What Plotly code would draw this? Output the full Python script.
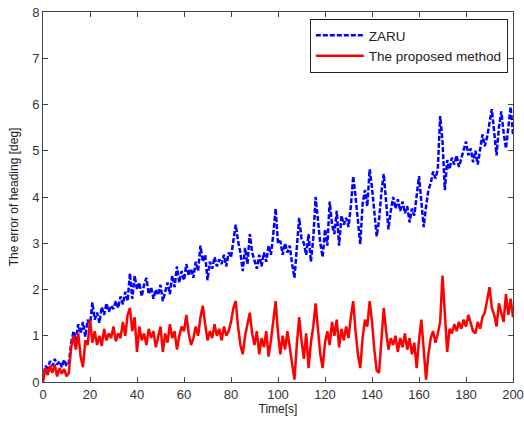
import plotly.graph_objects as go

# heading error [deg], sampled every second from 0 to 200 s
time_s = list(range(0, 201))

zaru = [
	0.05, 0.35, 0.30, 0.45, 0.35, 0.50, 0.38, 0.45, 0.32, 0.48,
	0.35, 0.42, 0.85, 1.10, 0.90, 1.25, 1.05, 1.30, 0.98, 1.35,
	1.20, 1.72, 1.35, 1.50, 1.28, 1.62, 1.45, 1.70, 1.52, 1.65,
	1.58, 1.75, 1.60, 1.85, 1.68, 1.95, 1.75, 2.35, 1.80, 2.30,
	2.00, 2.15, 1.85, 2.10, 2.25, 1.90, 2.05, 1.80, 2.00, 1.88,
	2.10, 1.75, 1.95, 2.15, 1.90, 2.30, 2.05, 2.50, 2.15, 2.40,
	2.20, 2.55, 2.30, 2.45, 2.25, 2.60, 2.40, 2.95, 2.60, 2.75,
	2.20, 2.60, 2.45, 2.70, 2.50, 2.65, 2.55, 2.75, 2.50, 2.80,
	2.70, 3.10, 3.40, 3.05, 2.80, 2.40, 2.90, 2.55, 3.20, 2.80,
	2.65, 2.45, 2.75, 2.50, 2.80, 2.60, 2.95, 2.75, 3.20, 3.75,
	3.00, 3.05, 2.75, 3.00, 2.80, 2.95, 2.55, 2.25, 2.90, 3.55,
	3.10, 3.00, 2.75, 3.20, 2.60, 3.10, 4.00, 3.50, 3.00, 2.70,
	3.30, 2.95, 3.90, 3.40, 3.20, 3.70, 2.95, 3.60, 3.40, 3.55,
	3.35, 3.80, 4.45, 4.00, 3.50, 2.98, 3.85, 4.15, 3.80, 4.60,
	4.20, 3.60, 3.15, 3.50, 4.10, 4.50, 3.90, 3.30, 3.70, 4.00,
	3.75, 3.95, 3.70, 3.90, 3.65, 3.80, 3.45, 3.75, 3.60, 4.10,
	4.45, 3.90, 3.35, 3.80, 4.15, 4.30, 4.55, 4.40, 4.60, 5.75,
	5.20, 4.15, 4.80, 4.60, 4.85, 4.70, 4.90, 4.65, 4.85, 5.00,
	5.20, 4.90, 5.05, 4.75, 5.00, 4.70, 5.00, 5.35, 5.10, 5.30,
	5.60, 5.90, 5.40, 4.90, 5.50, 5.85, 5.40, 5.05, 5.50, 5.95,
	5.35,
]

proposed = [
	0.00, 0.30, 0.15, 0.35, 0.20, 0.38, 0.12, 0.30, 0.18, 0.28,
	0.12, 0.20, 0.75, 1.00, 0.70, 1.05, 0.55, 0.32, 0.90, 0.80,
	1.35, 0.85, 1.10, 0.80, 1.00, 0.78, 1.15, 0.90, 1.05, 0.95,
	1.20, 0.88, 1.05, 0.95, 1.30, 1.00, 1.45, 1.60, 1.10, 1.40,
	0.65, 1.20, 0.90, 1.05, 0.80, 1.15, 0.95, 1.10, 0.75, 1.00,
	1.20, 0.65, 1.05, 0.85, 1.25, 0.95, 1.10, 0.70, 1.00, 1.20,
	1.10, 1.45, 1.05, 0.80, 0.95, 1.20, 1.00, 1.40, 1.65, 1.25,
	0.90, 1.10, 0.95, 1.25, 1.00, 1.15, 0.90, 1.20, 1.00, 1.10,
	1.30, 1.60, 1.75, 1.20, 0.80, 0.60, 1.00, 1.25, 1.50, 1.05,
	0.80, 1.10, 0.60, 0.95, 0.75, 1.10, 0.55, 0.90, 1.30, 1.75,
	1.05, 0.60, 1.00, 0.70, 1.10, 0.75, 0.35, 0.05, 0.80, 1.40,
	0.90, 0.50, 1.05, 0.30, 0.85, 1.20, 1.70, 1.05, 0.60, 0.30,
	0.85, 1.10, 0.80, 1.30, 1.00, 1.35, 0.75, 1.15, 0.90, 1.20,
	0.95, 1.40, 1.75, 1.10, 0.60, 0.30, 0.95, 1.35, 1.20, 1.75,
	1.30, 0.70, 0.25, 0.20, 0.90, 1.60, 1.10, 0.70, 0.95, 0.80,
	1.00, 0.65, 0.95, 0.75, 1.05, 0.70, 0.95, 0.60, 0.85, 0.30,
	0.90, 1.35, 0.70, 0.05, 0.60, 0.95, 1.10, 0.85, 1.05, 1.30,
	2.30, 1.40, 0.65, 1.15, 1.05, 1.25, 1.10, 1.30, 1.15, 1.35,
	1.20, 1.45, 1.25, 1.10, 1.05, 1.30, 1.15, 1.40, 1.50, 1.75,
	2.05, 1.60, 1.45, 1.20, 1.70, 1.50, 1.30, 1.90, 1.45, 1.80,
	1.40,
]

x_ticks = list(range(0, 201, 20))
y_ticks = list(range(0, 9))

traces = []
traces.append(go.Scatter(x=time_s, y=zaru, name="ZARU", mode="lines",
						line=dict(color="#0000ff", width=2.5, dash="5px,2px")))
traces.append(go.Scatter(x=time_s, y=proposed, name="The proposed method", mode="lines",
						line=dict(color="#ff0000", width=2.5)))

fig = go.Figure(data=traces)

axis_style = dict(showline=True, linecolor="#444444", linewidth=1, mirror="ticks",
				ticks="inside", ticklen=5, tickcolor="#444444", showgrid=False,
				zeroline=False, automargin=False, ticklabeloverflow="allow",
				tickfont=dict(size=13, color="#333333"))

fig.update_xaxes(title=dict(text="Time[s]", font=dict(size=12, color="#222222"), standoff=2),
				range=[0, 200], tickvals=x_ticks, **axis_style)
fig.update_yaxes(title=dict(text="The error of heading [deg]", font=dict(size=12, color="#222222"), standoff=10),
				range=[0, 8], tickvals=y_ticks, **axis_style)

fig.update_layout(
	width=524, height=425, autosize=False,
	margin=dict(l=43, r=11, t=12, b=43),
	plot_bgcolor="white", paper_bgcolor="white",
	font=dict(family="Liberation Sans, Arial, sans-serif", color="#222222"),
	legend=dict(x=0.989, y=0.981, xanchor="right", yanchor="top",
				bordercolor="#222222", borderwidth=1, bgcolor="white",
				font=dict(size=13.5), tracegroupgap=0, itemwidth=48),
)

# drop the page's default body margin so the figure sits at the top left corner
fig.write_html("out.html", config={"displayModeBar": False},
			   post_script="document.body.style.margin='0';")
